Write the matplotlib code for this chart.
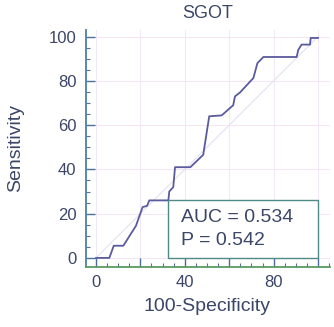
import matplotlib
matplotlib.use("Agg")
import matplotlib.pyplot as plt
from matplotlib.ticker import MultipleLocator
from matplotlib.patches import Rectangle

# ===== DATA =====
TITLE = "SGOT"
AUC = 0.534
P_VALUE = 0.542

# ROC curve points (100-Specificity, Sensitivity)
fpr = [0, 6, 8, 12.3, 18, 21, 23, 24, 32.6, 33, 34.8, 35.6, 42.5, 48.3,
       51, 56.6, 61.8, 62.6, 64.9, 70.9, 72.7, 75.4, 90.4, 91.1, 92.6,
       96.4, 96.7, 100]
tpr = [0, 0, 5.5, 5.5, 14.5, 23, 23.5, 26, 26, 30, 32, 41, 41, 46.6,
       64, 64.4, 69, 73, 74.8, 81.3, 88, 90.8, 90.8, 94, 96.4,
       96.4, 99.4, 99.4]

x_ticks = [0, 20, 40, 60, 80, 100]
x_tick_labels = ["0", "", "40", "", "80", ""]

# ===== STYLE =====
TEXT_COLOR = "#3b4668"
CURVE_COLOR = "#5a5a9e"
plt.rcParams["font.family"] = ["Liberation Sans", "DejaVu Sans"]

fig = plt.figure(figsize=(3.34, 3.27), dpi=100)
ax = fig.add_axes([0.2575, 0.1835, 0.7305, 0.7248])

# faint grid + diagonal reference
for v in range(0, 101, 20):
    ax.axvline(v, color="#f0e8f4", lw=0.7, zorder=0)
    ax.axhline(v, color="#f4e4f4", lw=0.7, zorder=0)
ax.plot([0, 100], [0, 100], color="#e4e0f4", lw=0.8, zorder=1)

ax.plot(fpr, tpr, color=CURVE_COLOR, lw=1.3, zorder=3)

# AUC / P box
ax.add_patch(Rectangle((32.6, 0), 67.4, 26, facecolor="white",
                       edgecolor="#4f8a86", lw=1.0, zorder=4))
ax.text(38.5, 18.1, f"AUC = {AUC:.3f}", fontsize=14, color=TEXT_COLOR,
        va="center", ha="left", zorder=5)
ax.text(38.5, 7.9, f"P = {P_VALUE:.3f}", fontsize=14, color=TEXT_COLOR,
        va="center", ha="left", zorder=5)

ax.set_xlim(-4.5, 105.4)
ax.set_ylim(-4.1, 103)

ax.set_xticks(x_ticks)
ax.set_xticklabels(x_tick_labels)
ax.xaxis.set_minor_locator(MultipleLocator(5))
ax.yaxis.set_major_locator(MultipleLocator(20))
ax.yaxis.set_minor_locator(MultipleLocator(5))

for s in ["top", "right"]:
    ax.spines[s].set_visible(False)
ax.spines["left"].set_color("#4c7fa0")
ax.spines["bottom"].set_color("#5a9a60")
ax.spines["left"].set_linewidth(1.3)
ax.spines["bottom"].set_linewidth(1.3)

ax.tick_params(axis="both", which="major", direction="in", length=6.5,
               width=1.0, color="#4c6fa0", labelsize=12, labelcolor=TEXT_COLOR)
ax.tick_params(axis="both", which="minor", direction="in", length=3,
               width=0.8, color="#5a6fa0")
ax.tick_params(axis="x", which="major", pad=6)
ax.tick_params(axis="y", which="major", pad=7)

ax.set_title(TITLE, fontsize=13, color=TEXT_COLOR, pad=8.5)
ax.set_xlabel("100-Specificity", fontsize=14, color=TEXT_COLOR)
ax.set_ylabel("Sensitivity", fontsize=14, color=TEXT_COLOR)
ax.xaxis.set_label_coords(0.496, -0.13)
ax.yaxis.set_label_coords(-0.255, 0.5)

fig.savefig("out.png", dpi=100)
